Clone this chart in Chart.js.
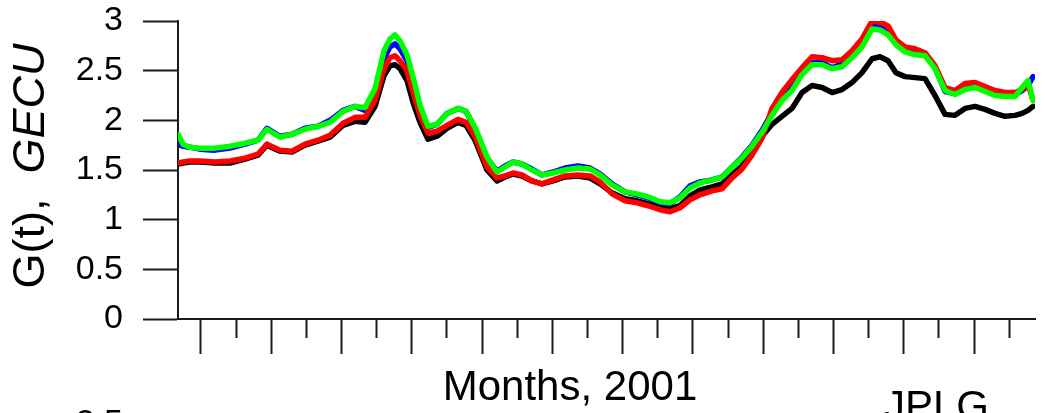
<!DOCTYPE html>
<html>
<head>
<meta charset="utf-8">
<script src="https://cdn.jsdelivr.net/npm/chart.js@4.4.1/dist/chart.umd.min.js"></script>
<style>
  html, body { margin: 0; padding: 0; background: #fff; overflow: hidden; }
  canvas { display: block; }
</style>
</head>
<body>
<canvas id="gecu" width="1045" height="413"></canvas>
<script>
// Time axis in months of 2001 (tick k marks the start of month k)
const months = [
  0.673, 0.744, 0.843, 0.986, 1.199, 1.413, 1.626, 1.811, 1.939, 2.124, 2.295,
  2.480, 2.665, 2.836, 3.021, 3.192, 3.334, 3.476, 3.604, 3.690, 3.761,
  3.832, 3.932, 4.031, 4.117, 4.230, 4.359, 4.501, 4.657, 4.771, 4.899,
  5.070, 5.212, 5.326, 5.440, 5.568, 5.710, 5.853, 6.009, 6.180, 6.365,
  6.536, 6.678, 6.849, 7.034, 7.205, 7.361, 7.532, 7.674, 7.817, 7.959,
  8.101, 8.272, 8.414, 8.557, 8.699, 8.841, 8.984, 9.126, 9.268, 9.410,
  9.553, 9.695, 9.838, 9.980, 10.122, 10.264, 10.407, 10.549, 10.663, 10.777,
  10.890, 11.018, 11.161, 11.303, 11.445, 11.588, 11.730, 11.872, 12.015, 12.157,
  12.299, 12.442, 12.584, 12.684, 12.769, 12.840
];

// Global electron content, GECU
const greenSeries = [
  1.86, 1.76, 1.73, 1.72, 1.72, 1.74, 1.77, 1.80, 1.91, 1.83, 1.86,
  1.91, 1.94, 1.98, 2.09, 2.14, 2.13, 2.32, 2.70, 2.82, 2.86,
  2.80, 2.66, 2.40, 2.15, 1.94, 1.96, 2.07, 2.12, 2.09, 1.93,
  1.63, 1.48, 1.53, 1.58, 1.56, 1.50, 1.45, 1.47, 1.50, 1.52,
  1.51, 1.45, 1.35, 1.28, 1.26, 1.23, 1.18, 1.17, 1.22, 1.32,
  1.37, 1.40, 1.43, 1.53, 1.62, 1.74, 1.88, 2.05, 2.20, 2.30,
  2.46, 2.56, 2.56, 2.52, 2.54, 2.63, 2.74, 2.92, 2.91, 2.86,
  2.76, 2.69, 2.66, 2.65, 2.52, 2.30, 2.26, 2.31, 2.33, 2.29,
  2.25, 2.24, 2.24, 2.33, 2.40, 2.20
];
const blueSeries = [
  1.76, 1.74, 1.73, 1.71, 1.70, 1.72, 1.76, 1.80, 1.92, 1.84, 1.86,
  1.92, 1.94, 2.00, 2.10, 2.14, 2.10, 2.28, 2.62, 2.74, 2.77,
  2.72, 2.60, 2.36, 2.12, 1.93, 1.96, 2.07, 2.12, 2.09, 1.92,
  1.62, 1.49, 1.54, 1.58, 1.56, 1.51, 1.45, 1.48, 1.52, 1.54,
  1.52, 1.46, 1.36, 1.28, 1.25, 1.22, 1.17, 1.16, 1.23, 1.34,
  1.38, 1.40, 1.43, 1.53, 1.63, 1.75, 1.90, 2.08, 2.23, 2.33,
  2.50, 2.58, 2.58, 2.53, 2.57, 2.67, 2.78, 2.95, 2.94, 2.88,
  2.77, 2.71, 2.68, 2.66, 2.53, 2.29, 2.27, 2.33, 2.34, 2.30,
  2.27, 2.26, 2.26, 2.30, 2.35, 2.44
];
const redSeries = [
  1.57, 1.58, 1.59, 1.59, 1.58, 1.59, 1.62, 1.66, 1.76, 1.70, 1.69,
  1.76, 1.80, 1.85, 1.97, 2.03, 2.03, 2.20, 2.52, 2.63, 2.65,
  2.60, 2.50, 2.25, 2.05, 1.87, 1.89, 1.95, 2.01, 1.98, 1.84,
  1.53, 1.42, 1.44, 1.47, 1.45, 1.39, 1.36, 1.40, 1.44, 1.45,
  1.44, 1.38, 1.26, 1.19, 1.17, 1.14, 1.10, 1.08, 1.12, 1.20,
  1.25, 1.29, 1.31, 1.42, 1.51, 1.65, 1.82, 2.12, 2.28, 2.41,
  2.53, 2.64, 2.63, 2.60, 2.61, 2.70, 2.82, 3.00, 2.99, 2.95,
  2.81, 2.74, 2.72, 2.68, 2.55, 2.33, 2.30, 2.37, 2.38, 2.34,
  2.30, 2.28, 2.28, 2.31, 2.36, 2.20
];
const blackSeries = [
  1.56, 1.57, 1.58, 1.58, 1.57, 1.57, 1.61, 1.65, 1.75, 1.69, 1.68,
  1.75, 1.79, 1.83, 1.95, 1.99, 1.98, 2.14, 2.45, 2.55, 2.56,
  2.52, 2.40, 2.15, 1.98, 1.81, 1.84, 1.92, 1.98, 1.95, 1.80,
  1.50, 1.39, 1.43, 1.46, 1.44, 1.39, 1.36, 1.39, 1.43, 1.44,
  1.42, 1.36, 1.27, 1.21, 1.19, 1.16, 1.13, 1.11, 1.14, 1.24,
  1.30, 1.33, 1.36, 1.45, 1.54, 1.67, 1.84, 1.96, 2.04, 2.12,
  2.28, 2.35, 2.33, 2.28, 2.31, 2.38, 2.48, 2.62, 2.64, 2.60,
  2.48, 2.44, 2.43, 2.42, 2.25, 2.06, 2.05, 2.12, 2.14, 2.11,
  2.07, 2.04, 2.05, 2.07, 2.10, 2.14
];

// Axis ticks: whole values are major (labelled on y), halves are minor
const monthTicks = [1, 1.5, 2, 2.5, 3, 3.5, 4, 4.5, 5, 5.5, 6, 6.5, 7, 7.5, 8, 8.5, 9, 9.5, 10, 10.5, 11, 11.5, 12, 12.5];
const valueTicks = [0, 0.25, 0.5, 0.75, 1, 1.25, 1.5, 1.75, 2, 2.25, 2.5, 2.75, 3];
const valueTickLabels = ['0', '', '0.5', '', '1', '', '1.5', '', '2', '', '2.5', '', '3'];

const FONT = "'Liberation Sans', Arial, Helvetica, sans-serif";
const INK = '#1a1a1a';

const toPoints = ys => months.map((m, i) => ({ x: m, y: ys[i] }));
const line = (ys, color) => ({
  data: toPoints(ys), borderColor: color, backgroundColor: color,
  borderWidth: 5.5, borderJoinStyle: 'round', borderCapStyle: 'round',
  pointRadius: 0, tension: 0, fill: false
});

// Axis titles and panel annotations
const annotations = {
  id: 'annotations',
  afterDraw(chart) {
    const ctx = chart.ctx;
    ctx.save();
    ctx.fillStyle = '#000';
    ctx.textBaseline = 'alphabetic';

    // vertical title: "G(t),  " upright, "GECU" italic
    const plain = 'G(t),  ', ital = 'GECU';
    const fPlain = '45px ' + FONT, fItal = 'italic 45px ' + FONT;
    ctx.font = fPlain; const w1 = ctx.measureText(plain).width;
    ctx.font = fItal;  const w2 = ctx.measureText(ital).width;
    const midY = (chart.chartArea.top + chart.chartArea.bottom) / 2 - 4;
    ctx.translate(44, midY);
    ctx.rotate(-Math.PI / 2);
    ctx.textAlign = 'left';
    ctx.font = fPlain; ctx.fillText(plain, -(w1 + w2) / 2, 0);
    ctx.font = fItal;  ctx.fillText(ital, -(w1 + w2) / 2 + w1, 0);
    ctx.setTransform(1, 0, 0, 1, 0, 0);

    // horizontal title
    ctx.font = '42px ' + FONT;
    ctx.textAlign = 'center';
    ctx.fillText('Months, 2001', 570, 400);

    // labels belonging to the next panel, running off the bottom edge
    ctx.textAlign = 'left';
    ctx.fillText('JPLG', 884, 420);
    ctx.font = '34px ' + FONT;
    ctx.textAlign = 'right';
    ctx.fillText('2.5', 123, 433);
    ctx.restore();
  }
};

new Chart(document.getElementById('gecu'), {
  type: 'line',
  data: {
    // first dataset is painted last, so green ends up on top
    datasets: [
      line(greenSeries, '#00ff00'),
      line(redSeries, '#ff0000'),
      line(blueSeries, '#0000ff'),
      line(blackSeries, '#000000')
    ]
  },
  options: {
    responsive: false,
    animation: false,
    events: [],
    layout: { padding: { left: 60, top: 21, right: 10, bottom: 0 } },
    plugins: { legend: { display: false }, tooltip: { enabled: false }, title: { display: false } },
    scales: {
      x: {
        type: 'linear',
        position: 'bottom',
        min: 0.673,
        max: 12.868,
        afterBuildTicks: s => { s.ticks = monthTicks.map(v => ({ value: v })); },
        afterFit: s => { s.height = 94; s.paddingLeft = 0; s.paddingRight = 0; },
        ticks: { display: false },
        grid: {
          drawOnChartArea: false,
          drawTicks: true,
          tickLength: 35,
          tickWidth: 2,
          tickColor: INK,
          tickBorderDash: c => (c.tick && Number.isInteger(c.tick.value)) ? [] : [18, 200]
        },
        border: { display: true, color: INK, width: 2 }
      },
      y: {
        type: 'linear',
        position: 'left',
        min: 0,
        max: 3,
        afterBuildTicks: s => { s.ticks = valueTicks.map(v => ({ value: v })); },
        afterFit: s => { s.width = 118; s.paddingTop = 0; s.paddingBottom = 0; },
        ticks: {
          color: '#000',
          padding: 20,
          font: { family: FONT, size: 34 },
          callback: (v, i) => valueTickLabels[i]
        },
        grid: {
          drawOnChartArea: false,
          drawTicks: true,
          tickLength: 35,
          tickWidth: 2,
          tickColor: INK,
          tickBorderDash: c => (c.tick && Math.abs(c.tick.value * 2 - Math.round(c.tick.value * 2)) < 1e-9) ? [] : [0, 16, 19, 200]
        },
        border: { display: true, color: INK, width: 2 }
      }
    }
  },
  plugins: [annotations]
});
</script>
</body>
</html>
